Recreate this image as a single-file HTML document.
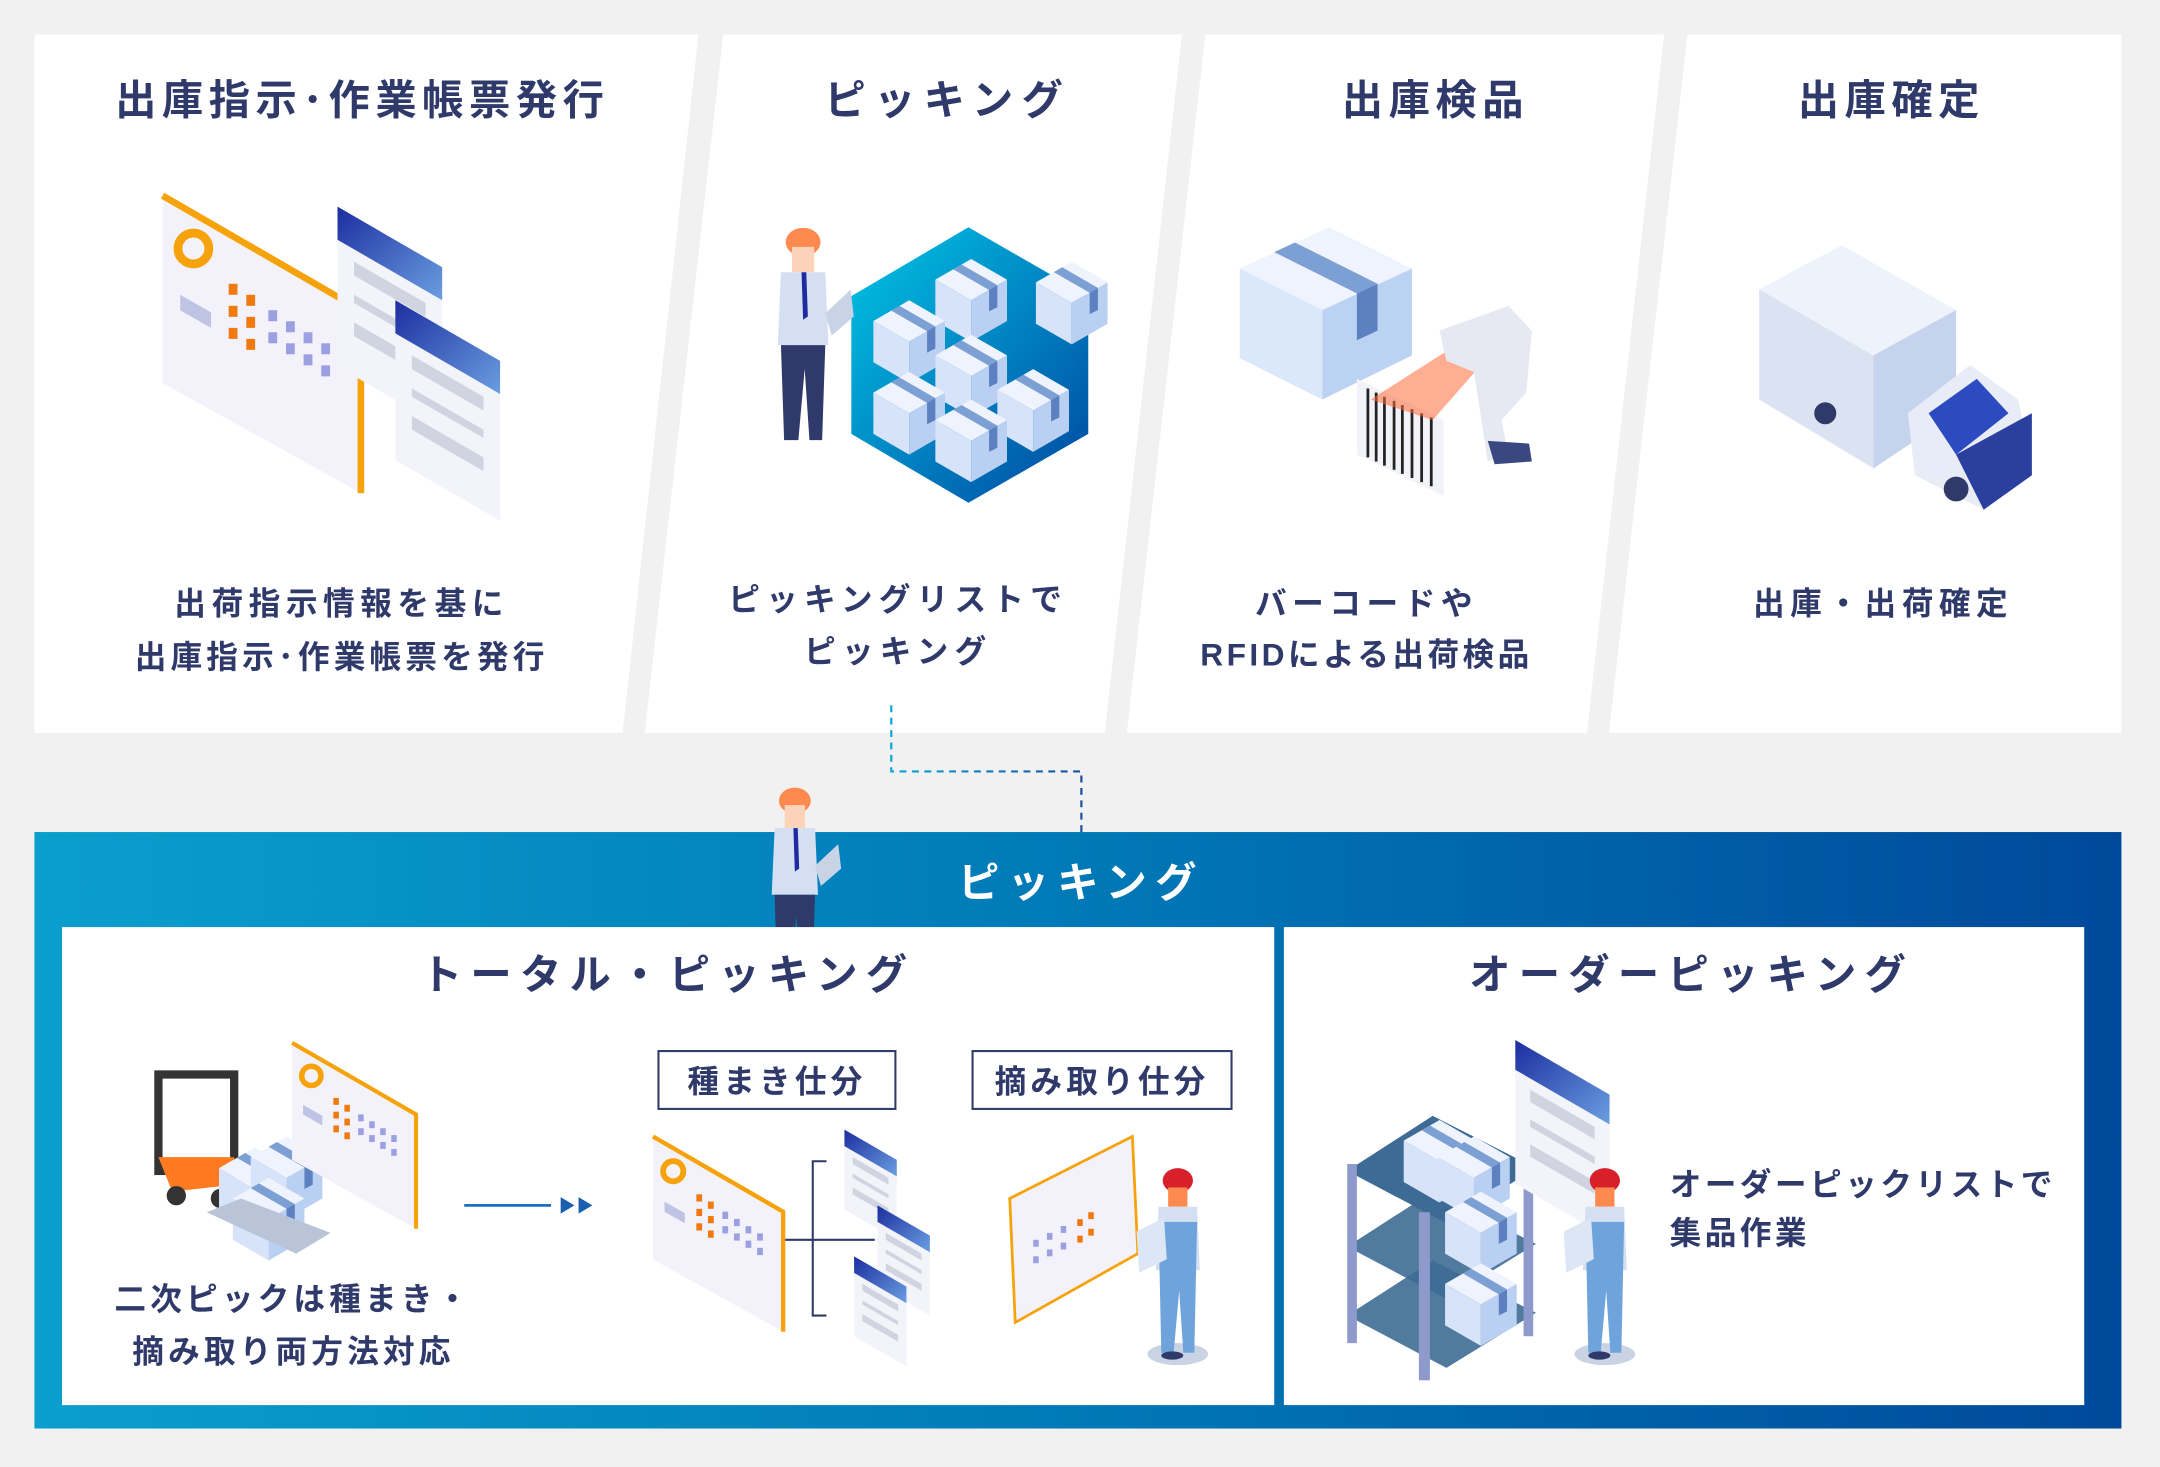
<!DOCTYPE html>
<html><head><meta charset="utf-8"><style>
html,body{margin:0;padding:0;background:#f1f1f1}
svg{display:block}
text{font-family:"Liberation Sans","Noto Sans CJK JP",sans-serif;font-weight:bold}
</style></head><body>
<svg width="2160" height="1467" viewBox="0 0 2160 1467" xmlns="http://www.w3.org/2000/svg">
<defs>
<linearGradient id="bg" x1="0" x2="1" y1="0" y2="0"><stop offset="0" stop-color="#0a9fcd"/><stop offset="0.5" stop-color="#0079b7"/><stop offset="1" stop-color="#00499a"/></linearGradient>
<linearGradient id="hex" x1="0" y1="0" x2="1" y2="1"><stop offset="0" stop-color="#00c6e6"/><stop offset="1" stop-color="#0046a0"/></linearGradient>
<linearGradient id="hdr" x1="0" y1="0" x2="1" y2="1"><stop offset="0" stop-color="#1c2ea0"/><stop offset="1" stop-color="#6a9ee0"/></linearGradient>
<linearGradient id="dash" x1="0" x2="1"><stop offset="0" stop-color="#0aa8d6"/><stop offset="1" stop-color="#1a4fa0"/></linearGradient>
<g id="cube">
<polygon points="0,-15 26,0 0,15 -26,0" fill="#eef3fd"/>
<polygon points="-26,0 0,15 0,45 -26,30" fill="#d6e3f8"/>
<polygon points="0,15 26,0 26,30 0,45" fill="#b9d0f2"/>
<polygon points="-13,-7.5 -7,-11 19,4 13,7.5" fill="#7c9fd4"/>
<polygon points="13,7.5 19,4 19,20 13,23" fill="#5c80c0"/>
</g>
<g id="worker">
<ellipse cx="0" cy="-75" rx="11" ry="9" fill="#ff8a50"/>
<rect x="-7" y="-72" width="14" height="16" fill="#fcd2b8"/>
<path d="M-14,-56 L14,-56 L16,-10 L-16,-10 Z" fill="#d4e0f2"/>
<path d="M-1,-56 L2,-56 L3,-28 L0,-26 Z" fill="#1d2aa0"/>
<path d="M-14,-10 L14,-10 L12,50 L4,50 L1,5 L-3,50 L-12,50 Z" fill="#2f3a6b"/>
<polygon points="14,-30 30,-45 32,-28 18,-16" fill="#c8d4e6"/>
</g>
<g id="picker">
<ellipse cx="0" cy="-75" rx="11" ry="9" fill="#d8202a"/>
<rect x="-7" y="-70" width="14" height="14" fill="#ff8a50"/>
<path d="M-14,-56 L14,-56 L16,-10 L-16,-10 Z" fill="#d4e0f2"/>
<path d="M-14,-45 L14,-45 L12,50 L4,50 L1,5 L-3,50 L-12,50 Z" fill="#6fa3dc"/>
<polygon points="-30,-38 -10,-48 -8,-18 -28,-8" fill="#dde6f4"/>
<ellipse cx="-4" cy="52" rx="8" ry="3" fill="#2f3a6b"/>
</g>
<g id="card">
<polygon points="0,0 90,52 90,135 0,85" fill="#f3f2fb"/>
<polyline points="0,0 90,52 90,135" fill="none" stroke="#f6a20a" stroke-width="3"/>
<circle cx="14" cy="24" r="7" fill="none" stroke="#f6a20a" stroke-width="4"/>
<g fill="#f07a10"><rect x="30" y="40" width="4" height="5"/><rect x="30" y="50" width="4" height="5"/><rect x="30" y="60" width="4" height="5"/><rect x="38" y="45" width="4" height="5"/><rect x="38" y="55" width="4" height="5"/><rect x="38" y="65" width="4" height="5"/></g>
<g fill="#9aa0e0"><rect x="48" y="52" width="4" height="5"/><rect x="48" y="62" width="4" height="5"/><rect x="56" y="57" width="4" height="5"/><rect x="56" y="67" width="4" height="5"/><rect x="64" y="62" width="4" height="5"/><rect x="64" y="72" width="4" height="5"/><rect x="72" y="67" width="4" height="5"/><rect x="72" y="77" width="4" height="5"/></g>
<polygon points="8,45 22,53 22,60 8,52" fill="#c0c4e4"/>
</g>
<g id="doc">
<polygon points="0,0 38,22 38,80 0,58" fill="#f3f4fa"/>
<polygon points="0,0 38,22 38,34 0,12" fill="url(#hdr)"/>
<polygon points="6,20 32,35 32,40 6,25" fill="#d0d4e0"/>
<polygon points="6,32 32,47 32,50 6,35" fill="#d0d4e0"/>
<polygon points="6,42 32,57 32,62 6,47" fill="#d0d4e0"/>
</g>
</defs>

<rect width="2160" height="1467" fill="#f1f1f1"/>
<g transform="scale(1.37755)">
<polygon points="25,25 507,25 452,532 25,532" fill="#fff"/>
<polygon points="525,25 858,25 802,532 468,532" fill="#fff"/>
<polygon points="875,25 1208,25 1152,532 818,532" fill="#fff"/>
<polygon points="1225,25 1540,25 1540,532 1168,532" fill="#fff"/>

<g fill="#2f3a6b" font-size="30" text-anchor="middle">
<text x="263" y="83" letter-spacing="4">出庫指示･作業帳票発行</text>
<text x="688" y="83" letter-spacing="6">ピッキング</text>
<text x="1042" y="83" letter-spacing="4">出庫検品</text>
<text x="1373" y="83" letter-spacing="4">出庫確定</text>
</g>
<g fill="#2f3a6b" font-size="23" text-anchor="middle">
<text x="248" y="446" letter-spacing="4">出荷指示情報を基に</text>
<text x="248" y="485" letter-spacing="3">出庫指示･作業帳票を発行</text>
<text x="652" y="443" letter-spacing="4.5">ピッキングリストで</text>
<text x="652" y="481" letter-spacing="4.5">ピッキング</text>
<text x="992" y="446" letter-spacing="4">バーコードや</text>
<text x="992" y="483" letter-spacing="2.5">RFIDによる出荷検品</text>
<text x="1367" y="446" letter-spacing="4">出庫・出荷確定</text>
</g>

<g transform="translate(118,142) scale(1.6,1.6)"><use href="#card"/></g>
<g transform="translate(245,150) scale(2,2)"><use href="#doc"/></g>
<g transform="translate(287,218) scale(2,2)"><use href="#doc"/></g>

<polygon points="703,165 790,215 790,315 703,365 618,315 618,215" fill="url(#hex)"/>
<use href="#cube" x="705" y="203"/>
<use href="#cube" x="778" y="205"/>
<use href="#cube" x="660" y="233"/>
<use href="#cube" x="705" y="258"/>
<use href="#cube" x="750" y="283"/>
<use href="#cube" x="660" y="285"/>
<use href="#cube" x="705" y="305"/>
<g transform="translate(583,262) scale(1.15)"><use href="#worker"/></g>

<polygon points="900,195 965,165 1025,195 960,225" fill="#eef3fd"/>
<polygon points="900,195 960,225 960,290 900,260" fill="#dbe7fa"/>
<polygon points="960,225 1025,195 1025,258 960,290" fill="#bcd2f3"/>
<polygon points="925,183 940,176 1000,206 985,213" fill="#7c9fd4"/>
<polygon points="985,213 1000,206 1000,240 985,247" fill="#5c80c0"/>
<polygon points="985,275 1048,305 1048,360 985,330" fill="#f1f3f8"/>
<g stroke="#222" stroke-width="2"><line x1="993" y1="282" x2="993" y2="332"/><line x1="999" y1="285" x2="999" y2="335"/><line x1="1005" y1="288" x2="1005" y2="338"/><line x1="1012" y1="291" x2="1012" y2="341"/><line x1="1018" y1="294" x2="1018" y2="344"/><line x1="1025" y1="297" x2="1025" y2="347"/><line x1="1032" y1="300" x2="1032" y2="350"/><line x1="1039" y1="303" x2="1039" y2="353"/></g>
<polygon points="1050,255 995,290 1040,305 1075,265" fill="#ff6a3a" opacity="0.55"/>
<polygon points="1045,240 1095,222 1112,240 1108,285 1090,305 1095,330 1080,335 1070,270 1050,262" fill="#e6e9f2"/>
<polygon points="1080,320 1110,322 1112,335 1085,337" fill="#3a4780"/>

<polygon points="1277,210 1337,178 1420,225 1360,258" fill="#eef2fa"/>
<polygon points="1277,210 1360,258 1360,340 1277,290" fill="#dbe3f3"/>
<polygon points="1360,258 1420,225 1420,300 1360,340" fill="#c6d3ec"/>
<polygon points="1385,300 1430,265 1465,290 1475,340 1440,370 1390,345" fill="#e8ecf6"/>
<polygon points="1400,300 1435,275 1458,300 1420,330" fill="#2d4bc0"/>
<polygon points="1420,330 1475,300 1475,345 1440,370" fill="#2a3f9e"/>
<circle cx="1420" cy="355" r="9" fill="#2f3a6b"/>
<circle cx="1325" cy="300" r="8" fill="#2f3a6b"/>

<polyline points="647,512 647,560 785,560 785,604" fill="none" stroke="url(#dash)" stroke-width="1.6" stroke-dasharray="5,4"/>

<rect x="25" y="604" width="1515" height="433" fill="url(#bg)"/>
<g transform="translate(577,660) scale(1.05)"><use href="#worker"/></g>
<text x="785" y="651" fill="#fff" font-size="30" text-anchor="middle" letter-spacing="6">ピッキング</text>
<rect x="45" y="673" width="880" height="347" fill="#fff"/>
<rect x="932" y="673" width="581" height="347" fill="#fff"/>

<g fill="#2f3a6b" font-size="30" text-anchor="middle">
<text x="485" y="718" letter-spacing="6">トータル・ピッキング</text>
<text x="1228" y="718" letter-spacing="6">オーダーピッキング</text>
</g>
<rect x="478" y="763" width="172" height="42" fill="#fff" stroke="#2f3a6b" stroke-width="1.5"/>
<rect x="706" y="763" width="188" height="42" fill="#fff" stroke="#2f3a6b" stroke-width="1.5"/>
<g fill="#2f3a6b" font-size="23" text-anchor="middle">
<text x="564" y="793" letter-spacing="3">種まき仕分</text>
<text x="800" y="793" letter-spacing="3">摘み取り仕分</text>
<text x="213" y="951" letter-spacing="3">二次ピックは種まき・</text>
<text x="213" y="989" letter-spacing="3">摘み取り両方法対応</text>
</g>
<g fill="#2f3a6b" font-size="23">
<text x="1212" y="868" letter-spacing="2.5">オーダーピックリストで</text>
<text x="1212" y="903" letter-spacing="2.5">集品作業</text>
</g>

<rect x="115" y="780" width="55" height="70" fill="none" stroke="#333" stroke-width="6"/>
<polygon points="115,840 170,840 170,860 125,865" fill="#ff7a20"/>
<circle cx="128" cy="868" r="7" fill="#333"/>
<circle cx="160" cy="870" r="7" fill="#333"/>
<use href="#cube" x="185" y="848"/>
<use href="#cube" x="208" y="840"/>
<use href="#cube" x="195" y="870"/>
<polygon points="150,880 215,910 240,895 175,870" fill="#b9c4d8"/>
<g transform="translate(212,757)"><use href="#card"/></g>
<line x1="337" y1="875" x2="400" y2="875" stroke="#1a6fc0" stroke-width="2"/>
<polygon points="407,869 417,875 407,881" fill="#1a5fb0"/>
<polygon points="420,869 430,875 420,881" fill="#1a5fb0"/>

<g transform="translate(474,825) scale(1.05)"><use href="#card"/></g>
<polyline points="600,843 590,843 590,955 600,955" fill="none" stroke="#2f3a6b" stroke-width="1.5"/>
<line x1="570" y1="900" x2="635" y2="900" stroke="#2f3a6b" stroke-width="1.5"/>
<g transform="translate(613,820)"><use href="#doc"/></g>
<g transform="translate(637,875)"><use href="#doc"/></g>
<g transform="translate(620,912)"><use href="#doc"/></g>
<polygon points="733,870 822,825 826,910 737,960" fill="#f3f2fb" stroke="#f6a20a" stroke-width="2"/>
<g fill="#9aa0e0"><rect x="750" y="900" width="4" height="5"/><rect x="760" y="895" width="4" height="5"/><rect x="770" y="890" width="4" height="5"/><rect x="750" y="912" width="4" height="5"/><rect x="760" y="907" width="4" height="5"/><rect x="770" y="902" width="4" height="5"/></g>
<g fill="#f07a10"><rect x="782" y="885" width="4" height="5"/><rect x="790" y="880" width="4" height="5"/><rect x="782" y="897" width="4" height="5"/><rect x="790" y="892" width="4" height="5"/></g>
<ellipse cx="855" cy="983" rx="22" ry="8" fill="#c9d3e3"/>
<g transform="translate(855,932)"><use href="#picker"/></g>

<polygon points="978,850 1040,810 1115,848 1050,888" fill="#3e6b95"/>
<polygon points="978,905 1040,865 1115,903 1050,943" fill="#3e6b95" opacity="0.9"/>
<polygon points="978,955 1040,915 1115,953 1050,993" fill="#3e6b95" opacity="0.9"/>
<g fill="#8d9acb"><rect x="978" y="845" width="7" height="130"/><rect x="1030" y="880" width="8" height="122"/><rect x="1106" y="845" width="7" height="125"/></g>
<use href="#cube" x="1045" y="828"/>
<use href="#cube" x="1070" y="840"/>
<use href="#cube" x="1075" y="880"/>
<use href="#cube" x="1075" y="932"/>
<g transform="translate(1100,755) scale(1.8)"><use href="#doc"/></g>
<ellipse cx="1165" cy="983" rx="22" ry="8" fill="#c9d3e3"/>
<g transform="translate(1165,932)"><use href="#picker"/></g>
</g>
</svg>
</body></html>
